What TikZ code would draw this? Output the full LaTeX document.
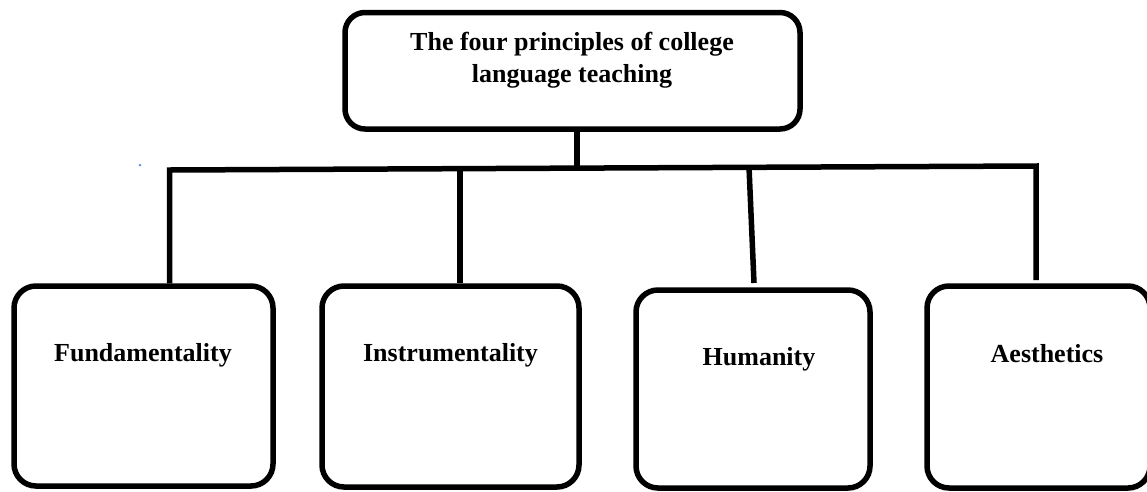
\documentclass[tikz,border=0pt]{standalone}
\usepackage{fontspec}
\setmainfont{Liberation Serif}
\definecolor{dotblue}{HTML}{6A9BD8}
\begin{document}
\begin{tikzpicture}[x=1pt,y=-1pt,
  box/.style={draw=black, line width=5.5pt, rounded corners=22pt, inner sep=0pt, minimum width=#1},
  lbl/.style={font=\fontsize{26}{32}\selectfont\bfseries, inner sep=0pt},
  conn/.style={draw=black, line width=5.5pt, line join=miter}]
\useasboundingbox (0,0) rectangle (1147,491);
% top box
\node[box=455pt, minimum height=116.5pt, rounded corners=20pt] (top) at (572.5,70.75) {};
\node[lbl, align=center, anchor=center] (title) at (572,60) {The four principles of college\\language teaching};
% bottom boxes
\node[box=259pt, minimum height=200pt] (b1) at (143.5,386) {};
\node[box=257pt, minimum height=201pt] (b2) at (450.5,386.5) {};
\node[box=234pt, minimum height=198pt] (b3) at (753,389) {};
\node[box=223pt, minimum height=202pt] (b4) at (1038.5,387) {};
\node[lbl, anchor=base] (t1) at (143,361) {Fundamentality};
\node[lbl, anchor=base] (t2) at (450.5,361) {Instrumentality};
\node[lbl, anchor=base] (t3) at (759,365) {Humanity};
\node[lbl, anchor=base] (t4) at (1047,362) {Aesthetics};
% junction coordinates
\coordinate (j0) at (577,168);
\coordinate (bL) at (169.5,170);
\coordinate (bR) at (1036,166);
\coordinate (j2) at (460,169);
\coordinate (j3) at (749,167);
\coordinate (j3b) at (754,283);
\coordinate (j4b) at (1036,280);
% connectors
\draw[conn] (j0 |- top.south) -- (j0);
\draw[conn] (bL |- b1.north) -- (bL) -- (bR) -- (j4b);
\draw[conn] (j2) -- (j2 |- b2.north);
\draw[conn] (j3) -- (j3b);
% stray dot
\node[circle, fill=dotblue, inner sep=0pt, minimum size=3pt] (dot) at (140,165) {};
\end{tikzpicture}
\end{document}
